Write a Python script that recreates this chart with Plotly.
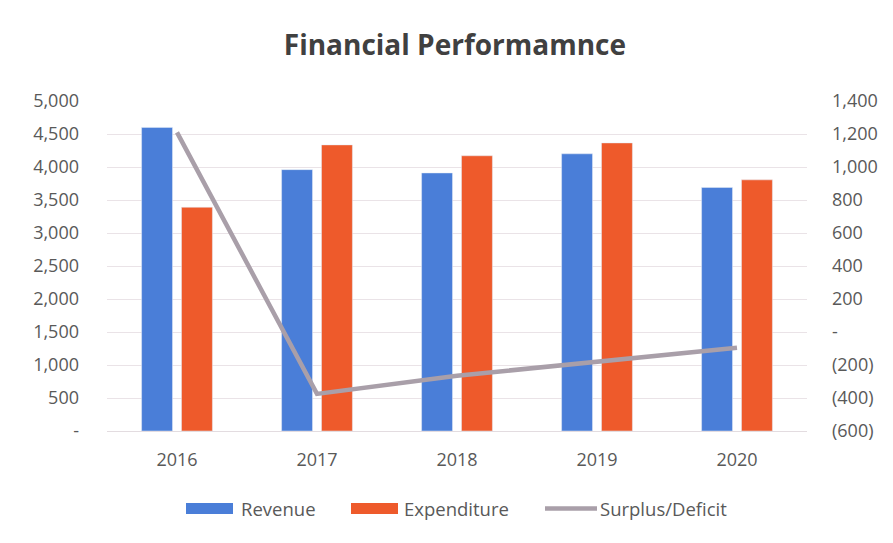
import plotly.graph_objects as go

years = ["2016", "2017", "2018", "2019", "2020"]
revenue = [4600, 3960, 3910, 4200, 3690]
expenditure = [3390, 4335, 4170, 4365, 3805]
surplus = [1210, -375, -265, -180, -95]

left_ticks = [0, 500, 1000, 1500, 2000, 2500, 3000, 3500, 4000, 4500, 5000]
left_labels = ["-", "500", "1,000", "1,500", "2,000", "2,500", "3,000", "3,500", "4,000", "4,500", "5,000"]
right_ticks = [-600, -400, -200, 0, 200, 400, 600, 800, 1000, 1200, 1400]
right_labels = ["(600)", "(400)", "(200)", "-", "200", "400", "600", "800", "1,000", "1,200", "1,400"]

FONT = "Open Sans"
TXT = "#595959"
BLUE = "#4A7ED8"
ORANGE = "#EE5A2B"
GREY = "#A99FA9"

# page is offset by the 8px body margin
W, H = 885, 535
ML, MR, MT, MB = 99, 86, 93, 112
PW, PH = W - ML - MR, H - MT - MB


def px(xpage):
    return (xpage - 8 - ML) / PW


def py(ypage):
    return (MT + PH - (ypage - 8)) / PH


fig = go.Figure()
fig.add_trace(go.Bar(name="Revenue", x=years, y=revenue, marker_color=BLUE))
fig.add_trace(go.Bar(name="Expenditure", x=years, y=expenditure, marker_color=ORANGE))
fig.add_trace(go.Scatter(name="Surplus/Deficit", x=years, y=surplus, yaxis="y2",
                         mode="lines", line=dict(color=GREY, width=4.5)))

# legend drawn manually to match the wide swatches
legend_items = [
    ("rect", BLUE, 186, 233, "Revenue", 239),
    ("rect", ORANGE, 351, 398, "Expenditure", 402),
    ("line", GREY, 545, 597, "Surplus/Deficit", 598),
]
shapes = []
annotations = []
for kind, col, x0, x1, label, tx in legend_items:
    if kind == "rect":
        shapes.append(dict(type="rect", xref="paper", yref="paper",
                           x0=px(x0), x1=px(x1), y0=py(514), y1=py(503),
                           fillcolor=col, line=dict(width=0)))
    else:
        shapes.append(dict(type="line", xref="paper", yref="paper",
                           x0=px(x0), x1=px(x1), y0=py(508.5), y1=py(508.5),
                           line=dict(color=col, width=4.5)))
    annotations.append(dict(text=label, xref="paper", yref="paper",
                            x=px(tx), y=py(508.5), xanchor="left", yanchor="middle",
                            showarrow=False, font=dict(family=FONT, size=18.5, color=TXT)))

fig.update_layout(
    width=W, height=H,
    paper_bgcolor="white", plot_bgcolor="white",
    margin=dict(l=ML, r=MR, t=MT, b=MB),
    title=dict(text="<b>Financial Performamnce</b>", x=0.505, xanchor="center",
               y=1 - 37 / H, yanchor="middle",
               font=dict(family=FONT, size=28, color="#404040")),
    barmode="group", bargap=0.43, bargroupgap=0.225,
    font=dict(family=FONT, size=18, color=TXT),
    xaxis=dict(showgrid=False, showline=True, linecolor="#E3DCE0", linewidth=1,
               ticks="", tickfont=dict(size=18, color=TXT), ticklabelstandoff=12),
    yaxis=dict(range=[0, 5000], tickvals=left_ticks, ticktext=left_labels,
               showgrid=True, gridcolor="#EAE3E7", gridwidth=1, zeroline=False,
               ticks="", tickfont=dict(size=18, color=TXT), ticklabelstandoff=27),
    yaxis2=dict(range=[-600, 1400], tickvals=right_ticks, ticktext=right_labels,
                overlaying="y", side="right", showgrid=False, zeroline=False,
                ticks="", tickfont=dict(size=18, color=TXT), ticklabelstandoff=24),
    showlegend=False,
    shapes=shapes,
    annotations=annotations,
)

fig.write_html("out.html")
